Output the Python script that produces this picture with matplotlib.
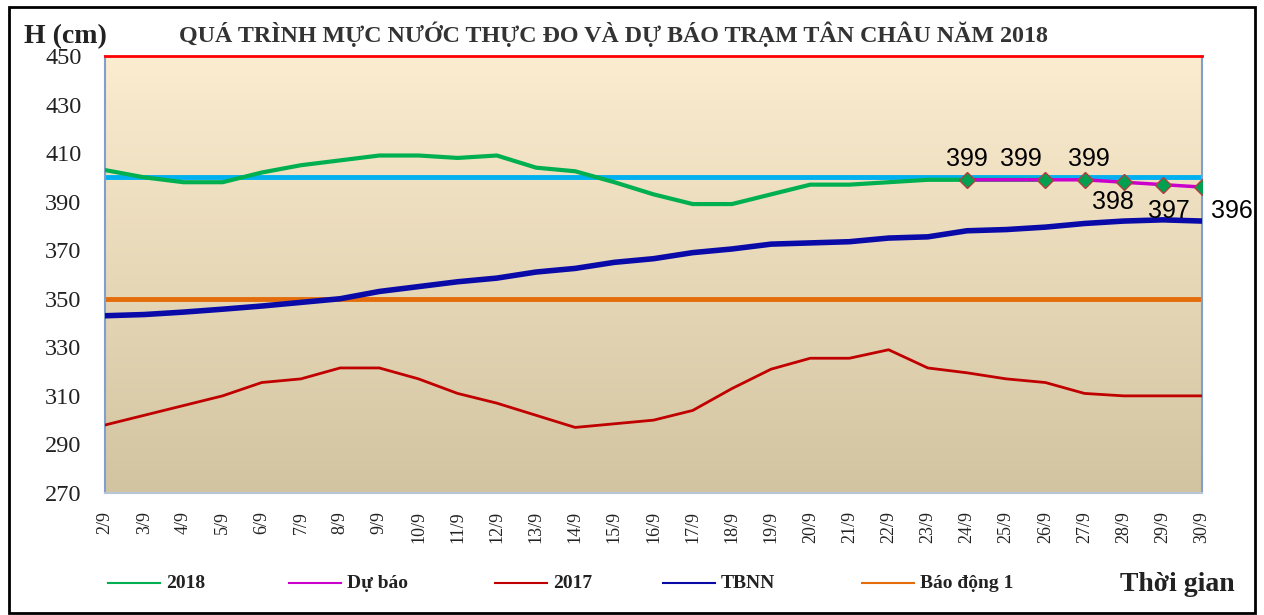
import matplotlib.pyplot as plt
import numpy as np
from matplotlib.lines import Line2D
from matplotlib.patches import Rectangle

days = [f'{d}/9' for d in range(2, 31)]
h2018 = [403, 400, 398, 398, 402, 405, 407, 409, 409, 408, 409, 404, 402.5, 398,
         393, 389, 389, 393, 397, 397, 398, 399, 399, 399, 399]
forecast_days = ['24/9', '25/9', '26/9', '27/9', '28/9', '29/9', '30/9']
forecast = [399, 399, 399, 399, 398, 397, 396]
h2017 = [298, 302, 306, 310, 315.5, 317, 321.5, 321.5, 317, 311, 307, 302, 297, 298.5,
         300, 304, 313, 321, 325.5, 325.5, 329, 321.5, 319.5, 317, 315.5, 311, 310, 310, 310]
tbnn = [343, 343.5, 344.5, 345.7, 347, 348.5, 350, 353, 355, 357, 358.5, 361, 362.5, 365,
        366.5, 369, 370.5, 372.5, 373, 373.5, 375, 375.5, 378, 378.5, 379.5, 381, 382, 382.5, 382]
bao_dong_1 = 350
muc_400 = 400

plt.rcParams['font.family'] = ['Liberation Serif', 'DejaVu Serif']

fig = plt.figure(figsize=(12.64, 6.15), dpi=100)
ax = fig.add_axes([0.0831, 0.1984, 0.8679, 0.7106])

x = np.arange(len(days))
xf = np.array([days.index(d) for d in forecast_days])

# background gradient
top = np.array([252, 236, 208]) / 255
bot = np.array([210, 196, 160]) / 255
t = np.linspace(0, 1, 256)[:, None]
grad = (top * (1 - t) + bot * t)[:, None, :]
ax.imshow(grad, extent=[0, len(days) - 1, 270, 450], aspect='auto', zorder=0)

ax.axhline(muc_400, color='#00B0F0', lw=3.5, zorder=2)
ax.axhline(bao_dong_1, color='#E46C0A', lw=3.5, zorder=2)
ax.plot(x, h2017, color='#C00000', lw=2, zorder=3)
ax.plot(x, tbnn, color='#0A0AA8', lw=4, zorder=3)
ax.plot(x[:len(h2018)], h2018, color='#00B050', lw=3, zorder=4)
ax.plot(xf, forecast, color='#CC00CC', lw=2.5, zorder=5)
mk = [0, 2, 3, 4, 5, 6]
ax.plot(xf[mk], np.array(forecast)[mk], ls='none', marker='D', ms=8,
        mfc='#00A050', mec='#B04040', mew=1, zorder=6)

# label offsets (days, points)
lab_off = {0: (0, 15), 2: (-0.62, 15), 3: (0.1, 15), 4: (-0.28, -14), 5: (0.15, -19),
           6: (0.77, -17)}
for i, (dx, dy) in lab_off.items():
    ax.annotate(str(forecast[i]), (xf[i] + dx, forecast[i]), xytext=(0, dy),
                textcoords='offset points', ha='center', va='center',
                fontsize=18, family='Liberation Sans', annotation_clip=False, zorder=7)

ax.set_xlim(0, len(days) - 1)
ax.set_ylim(270, 450)
ax.set_yticks(np.arange(270, 451, 20))
ax.set_xticks(x)
ax.set_xticklabels(days, rotation=90, fontsize=13)
ax.tick_params(axis='y', labelsize=17.5, length=0, pad=17, labelcolor='#222222')
ax.tick_params(axis='x', length=0, pad=13, labelcolor='#222222')
for s in ['left', 'right']:
    ax.spines[s].set_color('#7F9FCF')
    ax.spines[s].set_linewidth(1.5)
ax.spines['bottom'].set_color('#B8C4D8')
ax.spines['bottom'].set_linewidth(1.5)
ax.spines['top'].set_color('#FF0000')
ax.spines['top'].set_linewidth(2)

fig.text(0.485, 0.945, 'QUÁ TRÌNH MỰC NƯỚC THỰC ĐO VÀ DỰ BÁO TRẠM TÂN CHÂU NĂM 2018',
         ha='center', va='center', fontsize=17.3, fontweight='bold', color='#333333')
fig.text(0.019, 0.94, 'H (cm)', ha='left', va='center', fontsize=20, fontweight='bold', color='#222222')
fig.text(0.977, 0.05, 'Thời gian', ha='right', va='center', fontsize=20, fontweight='bold', color='#222222')

# legend drawn item by item to keep the original uneven spacing
leg_colors = ['#00B050', '#CC00CC', '#C00000', '#0A0AA8', '#E46C0A']
leg_labels = ['2018', 'Dự báo', '2017', 'TBNN', 'Báo động 1']
leg_x = [108, 289, 495, 663, 862]
leg_y = 1 - 583 / 615
for px, c, lab in zip(leg_x, leg_colors, leg_labels):
    fig.add_artist(Line2D([px / 1264, (px + 52) / 1264], [leg_y, leg_y], color=c, lw=1.5))
    fig.text((px + 58) / 1264, leg_y, lab, ha='left', va='center', fontsize=14,
             fontweight='bold', color='#222222')

fig.patches.append(Rectangle((0.007, 0.003), 0.986, 0.985, transform=fig.transFigure,
                             fill=False, edgecolor='black', lw=2))

fig.savefig('out.png', dpi=100)
